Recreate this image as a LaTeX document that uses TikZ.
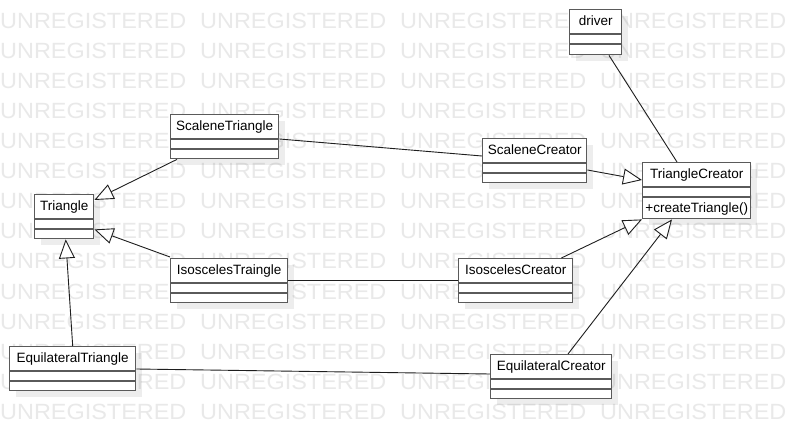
\documentclass[tikz,border=0pt]{standalone}
\usepackage{fontspec}
\setmainfont{Liberation Sans}
\usetikzlibrary{arrows.meta,shadows}
\definecolor{wmc}{RGB}{233,233,233}
\definecolor{boxc}{RGB}{90,90,90}
\definecolor{linec}{RGB}{30,30,30}
\tikzset{
  classbox/.style={draw=boxc, line width=1.4pt, fill=white, inner sep=0pt, anchor=north west,
    drop shadow={shadow xshift=6pt, shadow yshift=-6pt, fill=black, opacity=0.07}},
  divider/.style={draw=boxc, line width=1.4pt},
  cname/.style={font=\fontsize{13.5}{16}\selectfont, inner sep=0pt, text=black, anchor=base},
  gen/.style={draw=linec, line width=0.9pt, -{Triangle[length=19pt,width=16pt,fill=white]}},
  assoc/.style={draw=linec, line width=0.9pt},
  wmark/.style={text=wmc, inner sep=0pt, anchor=base west, font=\fontsize{22}{22}\selectfont}
}
% name, x, y, width, height, text
\newcommand\umlclassbox[6]{%
  \node[classbox, minimum width=#4pt, minimum height=#5pt] (#1) at (#2,#3) {};
  \node[cname] (#1-name) at ([yshift=-16.8pt]#1.north) {#6};
  \draw[divider] ([yshift=-25pt]#1.north west) -- ([yshift=-25pt]#1.north east);
  \draw[divider] ([yshift=-35pt]#1.north west) -- ([yshift=-35pt]#1.north east);
}
\begin{document}
\begin{tikzpicture}[x=1pt, y=-1pt]
  \fill[white] (0,0) rectangle (789,438);
  \useasboundingbox (0,0) rectangle (789,438);
  % watermark
  \foreach \r in {0,...,13}{
    \foreach \c in {0,...,3}{
      \node[wmark] (wm-\r-\c) at (\c*200, 29+\r*30) {\scalebox{1.065}[1]{UNREGISTERED}};
    }
  }
  % classes
  \umlclassbox{st}{170}{114}{108}{44}{ScaleneTriangle}
  \umlclassbox{tri}{34}{194}{59}{44}{Triangle}
  \umlclassbox{it}{170}{258}{117}{44}{IsoscelesTraingle}
  \umlclassbox{et}{9}{346}{126}{44}{EquilateralTriangle}
  \umlclassbox{dr}{569}{9}{52}{45}{driver}
  \umlclassbox{sc}{482}{138}{104}{44}{ScaleneCreator}
  \umlclassbox{tc}{642}{162}{108}{56}{TriangleCreator}
  \node[cname] (tc-op) at ([yshift=-51pt]tc.north) {+createTriangle()};
  \umlclassbox{ic}{458}{258}{114}{44}{IsoscelesCreator}
  \umlclassbox{ec}{490}{354}{121}{44}{EquilateralCreator}
  % connectors
  \draw[gen] ([xshift=7pt]st.south west) -- ([yshift=-6pt]tri.north east);
  \draw[gen] ([yshift=1pt]it.north west) -- ([yshift=10pt]tri.south east);
  \draw[gen] (et.north) -- ([xshift=1.5pt]tri.south);
  \draw[assoc] ([yshift=-25pt]st.north east) -- ([yshift=-18pt]sc.north west);
  \draw[gen] ([yshift=-32pt]sc.north east) -- ([yshift=-18pt]tc.north west);
  \draw[assoc] ([xshift=40pt]dr.south west) -- ([xshift=35pt]tc.north west);
  \draw[assoc] (it.east) -- (ic.west);
  \draw[gen] ([xshift=-12pt]ic.north east) -- (tc.south west);
  \draw[gen] ([xshift=78pt]ec.north west) -- ([xshift=30pt]tc.south west);
  \draw[assoc] ([yshift=-23pt]et.north east) -- ([yshift=-20pt]ec.north west);
\end{tikzpicture}
\end{document}
